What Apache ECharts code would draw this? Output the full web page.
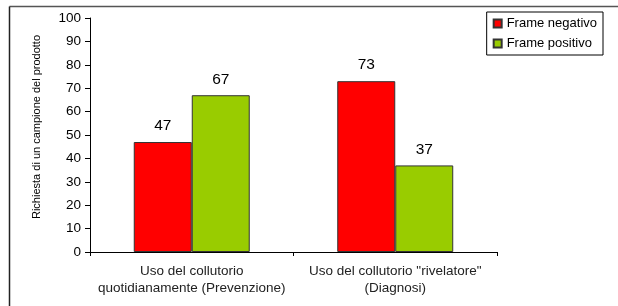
<!DOCTYPE html>
<html style="height: 100%">
	<head>
		<meta charset="utf-8" />
		<title>Richiesta campione</title>
		<script type="text/javascript" src="https://cdn.jsdelivr.net/npm/echarts@6/dist/echarts.min.js"></script>
	</head>
	<body style="height: 100%; margin: 0; background: #fff;">
		<div id="container" style="width: 618px; height: 306px"></div>
		<script type="text/javascript">
			var categorie = ['Uso del collutorio\nquotidianamente (Prevenzione)', 'Uso del collutorio "rivelatore"\n(Diagnosi)'];
			var frameNegativo = [47, 73];
			var framePositivo = [67, 37];
			var tickY = [0, 10, 20, 30, 40, 50, 60, 70, 80, 90, 100];

			var myChart = echarts.init(document.getElementById('container'));
			var font = 'Liberation Sans, Arial, sans-serif';
			var option = {
				animation: false,
				textStyle: { fontFamily: font },
				graphic: [
					{ type: 'line', shape: { x1: 9.5, y1: 6.5, x2: 618, y2: 6.5 }, style: { stroke: '#555', lineWidth: 1.5 } },
					{ type: 'line', shape: { x1: 9.5, y1: 6.5, x2: 9.5, y2: 306 }, style: { stroke: '#222', lineWidth: 1.5 } }
				],
				legend: {
					orient: 'vertical',
					right: 15,
					top: 12,
					itemWidth: 8,
					itemHeight: 8,
					itemGap: 7,
					padding: [5, 6, 5, 6],
					borderColor: '#000',
					borderWidth: 1,
					icon: 'rect',
					textStyle: { fontSize: 13, color: '#000', fontFamily: font },
					data: ['Frame negativo', 'Frame positivo']
				},
				grid: { left: 90, right: 121, top: 18, bottom: 54 },
				xAxis: {
					type: 'category',
					data: categorie,
					axisLine: { lineStyle: { color: '#000', width: 1 } },
					axisTick: { show: true, length: 4, lineStyle: { color: '#000' } },
					axisLabel: { fontSize: 13.5, color: '#222', lineHeight: 17, margin: 11, interval: 0 }
				},
				yAxis: {
					type: 'value',
					min: 0,
					max: 100,
					interval: 10,
					name: 'Richiesta di un campione del prodotto',
					nameLocation: 'middle',
					nameRotate: 90,
					nameGap: 48,
					nameTextStyle: { fontSize: 11, color: '#000', padding: [0, 0, 0, 16] },
					splitLine: { show: false },
					axisLine: { show: true, lineStyle: { color: '#000', width: 1 } },
					axisTick: { show: true, length: 5, lineStyle: { color: '#000' } },
					axisLabel: { fontSize: 13.5, color: '#000', margin: 9 }
				},
				series: [
					{
						name: 'Frame negativo',
						type: 'bar',
						data: frameNegativo,
						barGap: '0%',
						barCategoryGap: '43%',
						itemStyle: { color: '#ff0000', borderColor: '#333', borderWidth: 1 },
						label: { show: true, position: 'top', distance: 8, fontSize: 15.5, color: '#000' }
					},
					{
						name: 'Frame positivo',
						type: 'bar',
						data: framePositivo,
						itemStyle: { color: '#99cc00', borderColor: '#333', borderWidth: 1 },
						label: { show: true, position: 'top', distance: 8, fontSize: 15.5, color: '#000' }
					}
				]
			};
			myChart.setOption(option, true);
		</script>
	</body>
</html>
